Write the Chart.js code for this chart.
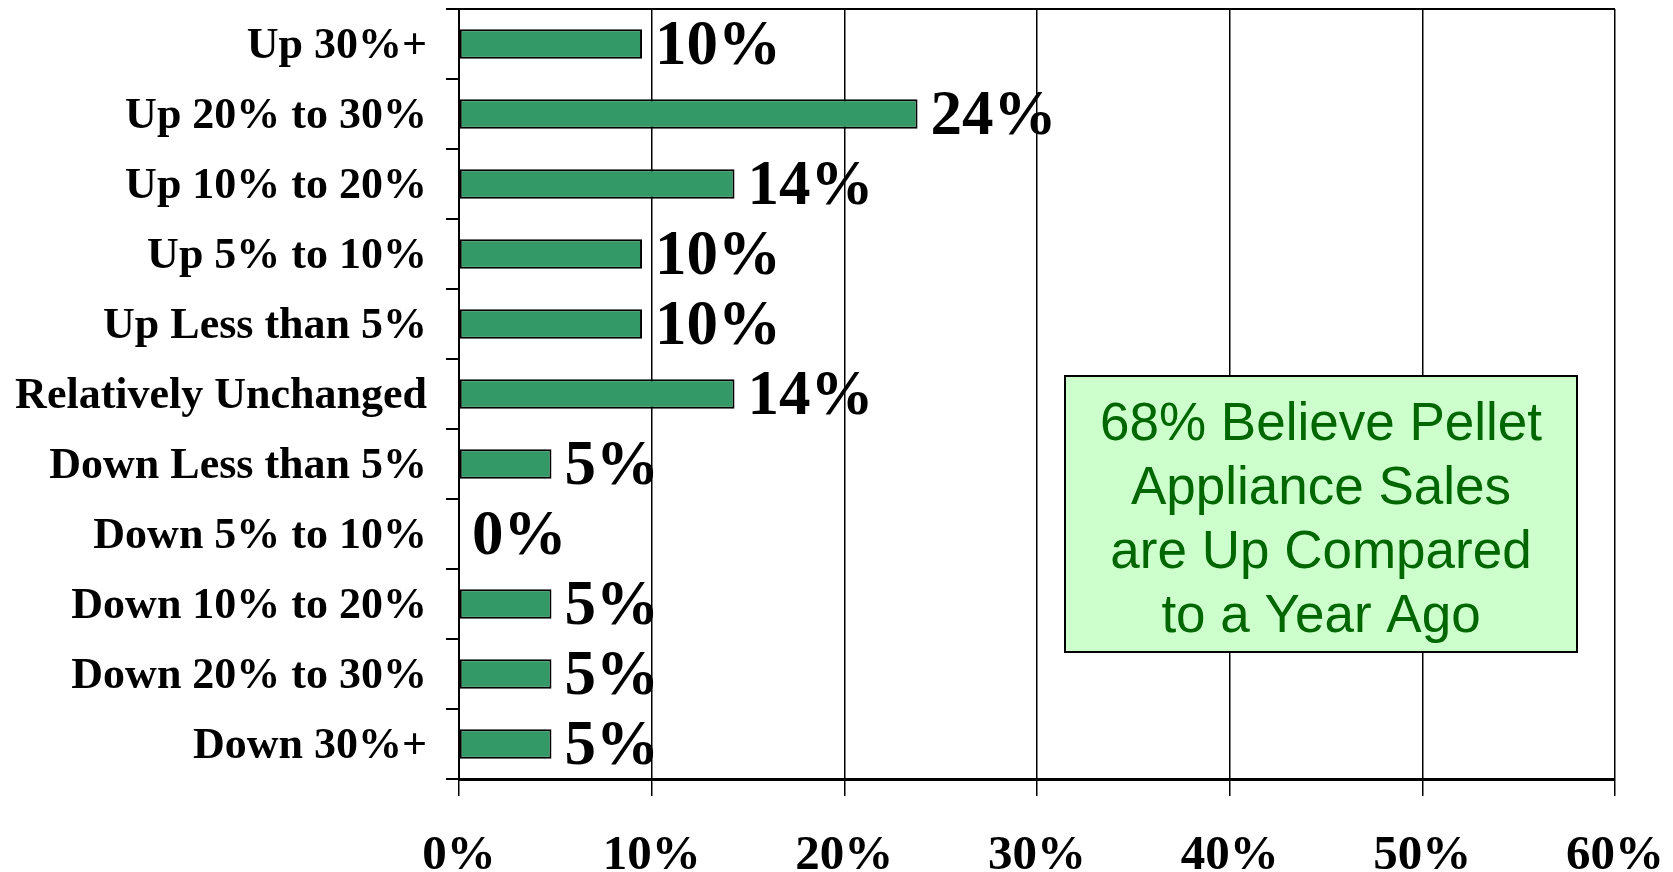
<!DOCTYPE html>
<html>
<head>
<meta charset="utf-8">
<script src="https://cdn.jsdelivr.net/npm/chart.js@4.4.1/dist/chart.umd.min.js"></script>
<style>
  html, body { margin: 0; padding: 0; background: #ffffff; }
  #wrap { width: 1673px; height: 872px; position: relative; }
</style>
</head>
<body>
<div id="wrap"><canvas id="c"></canvas></div>
<script>
const categories = ['Up 30%+', 'Up 20% to 30%', 'Up 10% to 20%', 'Up 5% to 10%', 'Up Less than 5%',
  'Relatively Unchanged', 'Down Less than 5%', 'Down 5% to 10%', 'Down 10% to 20%',
  'Down 20% to 30%', 'Down 30%+'];
const values = [9.5, 23.8, 14.3, 9.5, 9.5, 14.3, 4.8, 0, 4.8, 4.8, 4.8];
const valueLabels = ['10%', '24%', '14%', '10%', '10%', '14%', '5%', '0%', '5%', '5%', '5%'];
const xTickLabels = ['0%', '10%', '20%', '30%', '40%', '50%', '60%'];
const noteLines = ['68% Believe Pellet', 'Appliance Sales', 'are Up Compared', 'to a Year Ago'];

const SERIF = '"Liberation Serif", "Times New Roman", "DejaVu Serif", serif';
const SANS = '"Liberation Sans", Arial, sans-serif';

const frameAndLabels = {
  id: 'frameAndLabels',
  afterDatasetsDraw(chart) {
    const ctx = chart.ctx;
    const area = chart.chartArea;
    ctx.save();
    // top border
    ctx.strokeStyle = '#000';
    ctx.lineWidth = 2;
    ctx.beginPath();
    ctx.moveTo(area.left, area.top);
    ctx.lineTo(area.right, area.top);
    ctx.stroke();
    // value labels
    const meta = chart.getDatasetMeta(0);
    ctx.fillStyle = '#000';
    ctx.font = 'bold 63px ' + SERIF;
    ctx.textAlign = 'left';
    ctx.textBaseline = 'middle';
    meta.data.forEach((bar, i) => {
      ctx.fillText(valueLabels[i], bar.x + 13, bar.y + 4);
    });
    // note box
    const bx = 1065, by = 376, bw = 512, bh = 276;
    ctx.fillStyle = '#CCFFCC';
    ctx.fillRect(bx, by, bw, bh);
    ctx.lineWidth = 2;
    ctx.strokeStyle = '#000';
    ctx.strokeRect(bx, by, bw, bh);
    ctx.fillStyle = '#006600';
    ctx.font = '53px ' + SANS;
    ctx.textAlign = 'center';
    ctx.textBaseline = 'alphabetic';
    noteLines.forEach((t, i) => {
      ctx.fillText(t, bx + bw / 2, 440 + i * 64);
    });
    ctx.restore();
  }
};

new Chart(document.getElementById('c'), {
  type: 'bar',
  data: {
    labels: categories,
    datasets: [{
      data: values,
      backgroundColor: '#339966',
      borderColor: '#000000',
      borderWidth: 2,
      borderSkipped: false,
      barPercentage: 0.42,
      categoryPercentage: 1.0
    }]
  },
  options: {
    indexAxis: 'y',
    responsive: true,
    maintainAspectRatio: false,
    animation: false,
    layout: { padding: { top: 9, right: 58, left: 0, bottom: 0 } },
    plugins: {
      legend: { display: false },
      tooltip: { enabled: false }
    },
    scales: {
      x: {
        min: 0,
        max: 60,
        afterFit(scale) {
          scale.height = 93;
          scale.paddingLeft = 0;
          scale.paddingRight = 0;
        },
        ticks: {
          stepSize: 10,
          color: '#000',
          padding: 31,
          maxRotation: 0,
          font: { family: SERIF, size: 49, weight: 'bold' },
          callback: (v, i) => xTickLabels[i]
        },
        grid: {
          color: '#000',
          lineWidth: 1.5,
          tickLength: 17,
          drawOnChartArea: true
        },
        border: { display: true, color: '#000', width: 3 }
      },
      y: {
        afterFit(scale) {
          scale.width = 459;
          scale.paddingTop = 0;
          scale.paddingBottom = 0;
        },
        ticks: {
          color: '#000',
          padding: 19,
          labelOffset: 3,
          font: { family: SERIF, size: 44, weight: 'bold' }
        },
        grid: {
          offset: true,
          drawOnChartArea: false,
          color: '#000',
          lineWidth: 2,
          tickLength: 13
        },
        border: { display: true, color: '#000', width: 2 }
      }
    }
  },
  plugins: [frameAndLabels]
});
</script>
</body>
</html>
